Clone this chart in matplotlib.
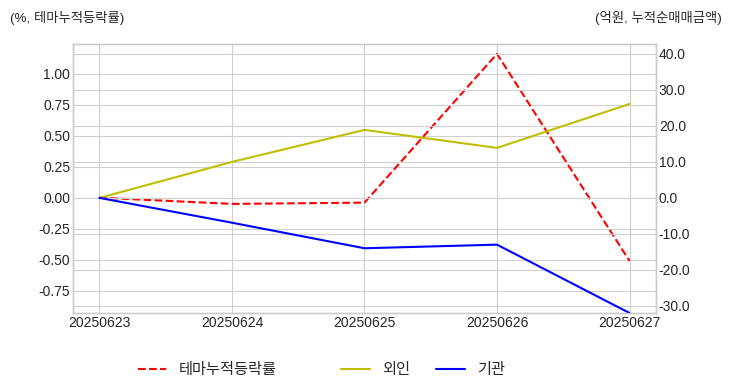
import matplotlib.pyplot as plt
import numpy as np
from matplotlib.ticker import FormatStrFormatter

plt.style.use('seaborn-v0_8-whitegrid')
plt.rcParams['font.family'] = ['Liberation Sans', 'Noto Sans CJK KR', 'DejaVu Sans']
plt.rcParams['axes.unicode_minus'] = False

dates = ["20250623", "20250624", "20250625", "20250626", "20250627"]
theme_ret = [0.0, -0.05, -0.04, 1.16, -0.51]
foreign = [0.0, 10.0, 18.9, 13.9, 26.1]
institution = [0.0, -6.9, -14.0, -13.0, -32.0]

fig = plt.figure(figsize=(7.32, 3.92), dpi=100)
ax = fig.add_axes([0.0997, 0.2015, 0.7965, 0.6865])
ax2 = ax.twinx()

x = np.arange(len(dates))
l1, = ax.plot(x, theme_ret, color='r', linestyle='--', lw=1.5, label='테마누적등락률')
l2, = ax2.plot(x, foreign, color='y', lw=1.5, label='외인')
l3, = ax2.plot(x, institution, color='b', lw=1.5, label='기관')

ax.set_xlim(-0.2, 4.2)
ax.set_ylim(-0.93, 1.24)
ax2.set_ylim(-32, 42.8)
ax.set_xticks(x)
ax.set_xticklabels(dates)
ax.set_yticks([-0.75, -0.5, -0.25, 0, 0.25, 0.5, 0.75, 1.0])
ax.yaxis.set_major_formatter(FormatStrFormatter('%.2f'))
ax2.set_yticks([-30, -20, -10, 0, 10, 20, 30, 40])
ax2.yaxis.set_major_formatter(FormatStrFormatter('%.1f'))
ax2.grid(True, color='#d0d0d0', lw=0.8)
ax.grid(True, color='#d0d0d0', lw=0.8)
for a in (ax, ax2):
    a.tick_params(labelsize=10, colors='#262626', pad=2)
    for s in a.spines.values():
        s.set_visible(True)
        s.set_color('#cccccc')

fig.text(0.014, 0.955, '(%, 테마누적등락률)', fontsize=9.6, ha='left', va='center', color='#262626')
fig.text(0.986, 0.955, '(억원, 누적순매매금액)', fontsize=9.6, ha='right', va='center', color='#262626')

leg1 = fig.legend(handles=[l1], loc='center', bbox_to_anchor=(0.283, 0.055), frameon=False,
                  fontsize=11, handlelength=1.85, handletextpad=0.8)
leg2 = fig.legend(handles=[l2, l3], loc='center', bbox_to_anchor=(0.578, 0.055), ncol=2,
                  frameon=False, fontsize=11, handlelength=1.85, handletextpad=0.8,
                  columnspacing=1.75)

fig.savefig('out.png', dpi=100)
